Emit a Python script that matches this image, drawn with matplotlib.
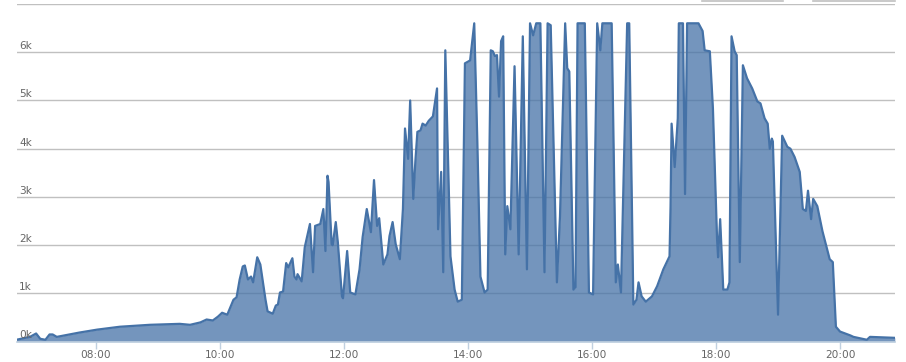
import matplotlib
matplotlib.use("Agg")
import matplotlib.pyplot as plt
from matplotlib.lines import Line2D
import matplotlib.transforms as mtransforms

# Leistung über den Tag (W)
times = [
    "06:43", "06:56", "07:02", "07:06", "07:11", "07:15", "07:18", "07:22", "07:44",
    "08:01", "08:23", "08:52", "09:21", "09:31", "09:41", "09:47", "09:53", "09:58",
    "10:02", "10:07", "10:13", "10:16", "10:19", "10:22", "10:24", "10:27", "10:30",
    "10:32", "10:36", "10:39", "10:44", "10:46", "10:51", "10:54", "10:56", "10:58",
    "11:01", "11:04", "11:06", "11:10", "11:12", "11:14", "11:15", "11:19", "11:22",
    "11:27", "11:30", "11:32", "11:37", "11:40", "11:42", "11:44", "11:45", "11:48",
    "11:49", "11:52", "11:54", "11:58", "11:59", "12:03", "12:06", "12:11", "12:15",
    "12:18", "12:22", "12:26", "12:29", "12:32", "12:34", "12:38", "12:42", "12:44",
    "12:47", "12:50", "12:54", "12:57", "12:59", "13:02", "13:04", "13:07", "13:09",
    "13:11", "13:14", "13:16", "13:19", "13:22", "13:26", "13:30", "13:31", "13:34",
    "13:36", "13:38", "13:43", "13:47", "13:50", "13:54", "13:57", "14:02", "14:06",
    "14:09", "14:12", "14:16", "14:19", "14:22", "14:24", "14:26", "14:28", "14:30",
    "14:32", "14:34", "14:36", "14:38", "14:41", "14:45", "14:49", "14:53", "14:57",
    "15:00", "15:03", "15:06", "15:10", "15:14", "15:17", "15:20", "15:26", "15:29",
    "15:34", "15:36", "15:38", "15:42", "15:44", "15:46", "15:53", "15:57", "16:01",
    "16:05", "16:08", "16:10", "16:19", "16:23", "16:25", "16:28", "16:34", "16:36",
    "16:40", "16:43", "16:45", "16:48", "16:52", "16:58", "17:03", "17:09", "17:15",
    "17:16", "17:17", "17:20", "17:23", "17:24", "17:28", "17:30", "17:32", "17:43",
    "17:47", "17:49", "17:54", "17:57", "18:01", "18:02", "18:04", "18:07", "18:11",
    "18:13", "18:15", "18:18", "18:20", "18:23", "18:26", "18:30", "18:35", "18:40",
    "18:43", "18:47", "18:50", "18:52", "18:54", "18:55", "19:00", "19:04", "19:09",
    "19:12", "19:16", "19:21", "19:24", "19:27", "19:29", "19:32", "19:34", "19:38",
    "19:43", "19:50", "19:53", "19:56", "20:00", "20:10", "20:13", "20:26", "20:29",
    "20:53",
]
watts = [
    40, 100, 170, 60, 40, 150, 150, 100, 190,
    250, 310, 350, 370, 350, 400, 460, 440, 520,
    600, 560, 870, 920, 1290, 1560, 1580, 1290, 1350,
    1230, 1750, 1600, 870, 630, 580, 750, 770, 1020,
    1040, 1630, 1540, 1730, 1350, 1290, 1400, 1250, 1960,
    2440, 1440, 2400, 2440, 2750, 1880, 3440, 3310, 2020,
    2000, 2480, 2060, 940, 900, 1880, 1020, 980, 1500,
    2170, 2750, 2270, 3350, 2400, 2560, 1600, 1810, 2190,
    2480, 2020, 1710, 2750, 4420, 3790, 5000, 2960, 3730,
    4350, 4380, 4520, 4480, 4580, 4670, 5250, 2330, 3520,
    1440, 6040, 1770, 1080, 830, 870, 5770, 5830, 6600,
    4150, 1350, 1020, 1080, 6040, 6020, 5920, 5940, 5080,
    6230, 6330, 1810, 2810, 2330, 5710, 1810, 6330, 1500,
    6600, 6350, 6600, 6600, 1440, 6600, 6560, 1230, 2600,
    6600, 5670, 5600, 1080, 1130, 6600, 6600, 1020, 980,
    6600, 6040, 6600, 6600, 1230, 1600, 1020, 6600, 6600,
    770, 870, 1230, 940, 830, 940, 1150, 1500, 1770,
    2810, 4520, 3620, 4630, 6600, 6600, 3060, 6600, 6600,
    6440, 6040, 6020, 4830, 2130, 1750, 2540, 1080, 1080,
    1230, 6330, 6020, 5940, 1650, 5730, 5460, 5250, 4980,
    4940, 4630, 4520, 4000, 4210, 4150, 560, 4270, 4040,
    4000, 3830, 3520, 2750, 2710, 3130, 2540, 2960, 2810,
    2290, 1710, 1650, 310, 210, 130, 100, 40, 100,
    80,
]
tick_times = ["08:00", "10:00", "12:00", "14:00", "16:00", "18:00", "20:00"]
y_ticks = [0, 1000, 2000, 3000, 4000, 5000, 6000, 7000]
y_labels = ["0k", "1k", "2k", "3k", "4k", "5k", "6k", ""]


def to_min(s):
    h, m = s.split(":")
    return int(h) * 60 + int(m)


x = [to_min(t) for t in times]

fig = plt.figure(figsize=(9.06, 3.62), dpi=100)
ax = fig.add_axes([17 / 906, 20.3 / 362, 878 / 906, 337.7 / 362])

line_col = "#4572A7"
ax.fill_between(x, watts, 0, color=line_col, alpha=0.75, linewidth=0, zorder=2)
ax.plot(x, watts, color=line_col, linewidth=1.6, solid_joinstyle="round", zorder=3)

ax.set_xlim(403.5, 1253.2)
ax.set_ylim(0, 7000)

# Gitterlinien
for v in y_ticks[1:]:
    ax.axhline(v, color="#C0C0C0", linewidth=1, zorder=1)

for s in ["top", "right", "left"]:
    ax.spines[s].set_visible(False)
ax.spines["bottom"].set_color("#C0D0E0")
ax.spines["bottom"].set_linewidth(1.2)
ax.spines["bottom"].set_zorder(4)

ax.set_yticks([])
ax.set_xticks([to_min(t) for t in tick_times])
ax.set_xticklabels(tick_times)
ax.tick_params(axis="x", colors="#C0D0E0", length=5, width=1, pad=1,
               labelsize=7.6, labelcolor="#666666")

trans = mtransforms.blended_transform_factory(ax.transAxes, ax.transData)
for v, lab in zip(y_ticks, y_labels):
    if lab:
        ax.text(0.0025, v + 25, lab, transform=trans, ha="left", va="bottom",
                fontsize=7.6, color="#666666", zorder=5)

# Reste der Buttons oben rechts
fig.add_artist(Line2D([702 / 906, 783 / 906], [0.998, 0.998], color="#C0C0C0", linewidth=1.2))
fig.add_artist(Line2D([813 / 906, 895 / 906], [0.998, 0.998], color="#C0C0C0", linewidth=1.2))

fig.savefig("out.png", dpi=100)
